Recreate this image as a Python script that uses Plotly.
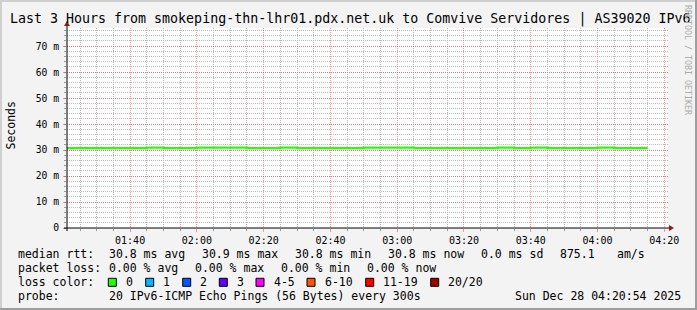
import plotly.graph_objects as go

# ---------------- data ----------------
DAY = "2025-12-28"
times = ["01:20", "01:25", "01:30", "01:35", "01:40", "01:45", "01:50", "01:55",
         "02:00", "02:05", "02:10", "02:15", "02:20", "02:25", "02:30", "02:35",
         "02:40", "02:45", "02:50", "02:55", "03:00", "03:05", "03:10", "03:15",
         "03:20", "03:25", "03:30", "03:35", "03:40", "03:45", "03:50", "03:55",
         "04:00", "04:05", "04:10", "04:15"]
median_ms = [30.75, 30.75, 30.75, 30.75, 30.75, 30.94, 30.75, 30.75,
             30.94, 30.94, 30.94, 30.75, 30.75, 30.94, 30.75, 30.75,
             30.75, 30.75, 30.94, 30.94, 30.94, 30.75, 30.75, 30.75,
             30.75, 30.75, 30.94, 30.75, 30.94, 30.75, 30.75, 30.75,
             30.94, 30.75, 30.75, 30.75]
x_start = DAY + " 01:21:06"
x_end = DAY + " 04:21:06"
y_max = 77
y_tickvals = [0, 10, 20, 30, 40, 50, 60, 70]
y_ticktext = ["0", "10 m", "20 m", "30 m", "40 m", "50 m", "60 m", "70 m"]

title = "Last 3 Hours from smokeping-thn-lhr01.pdx.net.uk to Comvive Servidores | AS39020 IPv6"
rtt_stats = ["30.8 ms avg", "30.9 ms max", "30.8 ms min", "30.8 ms now", "0.0 ms sd", "875.1", "am/s"]
loss_stats = ["0.00 % avg", "0.00 % max", "0.00 % min", "0.00 % now"]
loss_labels = ["0", "1", "2", "3", "4-5", "6-10", "11-19", "20/20"]
loss_colors = ["#26ff00", "#00b8ff", "#0059ff", "#5e00ff", "#ff00ff", "#ff5500", "#ff0000", "#a10000"]
probe_text = "20 IPv6-ICMP Echo Pings (56 Bytes) every 300s"
stamp_text = "Sun Dec 28 04:20:54 2025"

# ---------------- layout geometry (pixels) ----------------
W, H = 697, 310
L, R, T, B = 67, 29, 28, 82
PW, PH = W - L - R, H - T - B


def px(x):
    return (x - L) / PW


def py(y):
    return (H - B - y) / PH


MONO = "DejaVu Sans Mono"
fig = go.Figure()
fig.add_trace(go.Scatter(
    x=[DAY + " " + t for t in times], y=median_ms, mode="lines",
    line=dict(color="#26ff00", width=2.4, shape="hv"), hoverinfo="skip", showlegend=False))

minor_grid = "#bbbbbb"
major_grid = "rgba(255,70,70,0.55)"
fig.update_layout(
    width=W, height=H, margin=dict(l=L, r=R, t=T, b=B, autoexpand=False),
    paper_bgcolor="#f3f3f3", plot_bgcolor="#ffffff", showlegend=False,
    font=dict(family=MONO, color="#000000"),
    xaxis=dict(type="date", range=[x_start, x_end], tick0=DAY + " 00:00:00", dtick=1200000,
               tickformat="%H:%M", showgrid=True, gridcolor=major_grid, griddash="1px,1px",
               gridwidth=1, ticks="outside", ticklen=3, tickcolor=major_grid,
               tickfont=dict(family=MONO, size=10, color="#000"), zeroline=False, showline=False,
               minor=dict(dtick=300000, tick0=DAY + " 00:00:00", showgrid=True, gridcolor=minor_grid,
                          gridwidth=1, griddash="1px,1px", ticks="outside", ticklen=2,
                          tickcolor="#999")),
    yaxis=dict(range=[0, y_max], tickvals=y_tickvals, ticktext=y_ticktext, showgrid=True,
               gridcolor=major_grid, griddash="1px,1px", ticks="outside", ticklen=3,
               tickcolor=major_grid, tickfont=dict(family=MONO, size=9.7, color="#000"),
               zeroline=False, showline=False, ticklabelstandoff=2,
               minor=dict(dtick=2, showgrid=True, gridcolor=minor_grid, gridwidth=1,
                          griddash="1px,1px", ticks="outside", ticklen=2, tickcolor="#999")),
)

shapes = []
# frame
shapes.append(dict(type="rect", xref="paper", yref="paper", x0=px(0), x1=px(2), y0=py(0), y1=py(H),
                   fillcolor="#cfcfcf", line=dict(width=0), layer="below"))
shapes.append(dict(type="rect", xref="paper", yref="paper", x0=px(0), x1=px(W), y0=py(0), y1=py(2),
                   fillcolor="#cfcfcf", line=dict(width=0), layer="below"))
shapes.append(dict(type="rect", xref="paper", yref="paper", x0=px(W - 2), x1=px(W), y0=py(0), y1=py(H),
                   fillcolor="#9e9e9e", line=dict(width=0), layer="below"))
shapes.append(dict(type="rect", xref="paper", yref="paper", x0=px(0), x1=px(W), y0=py(H - 2), y1=py(H),
                   fillcolor="#9e9e9e", line=dict(width=0), layer="below"))
# axes lines
shapes.append(dict(type="line", xref="paper", yref="paper", x0=px(L - 3), x1=px(L + PW + 3), y0=0, y1=0,
                   line=dict(color="#000", width=1)))
shapes.append(dict(type="line", xref="paper", yref="paper", x0=0, x1=0, y0=py(H - B + 3), y1=py(T - 3),
                   line=dict(color="#000", width=1)))
# arrows
shapes.append(dict(type="path", xref="paper", yref="paper", xsizemode="pixel", ysizemode="pixel",
                   xanchor=px(L + PW + 1), yanchor=0, path="M 0,-3 L 5,0 L 0,3 Z",
                   fillcolor="#8b1a1a", line=dict(width=0)))
shapes.append(dict(type="path", xref="paper", yref="paper", xsizemode="pixel", ysizemode="pixel",
                   xanchor=0, yanchor=py(T - 2), path="M -3,0 L 3,0 L 0,5 Z",
                   fillcolor="#8b1a1a", line=dict(width=0)))

ann = []


def text(x, y, s, size=11.5, color="#000", xanchor="left", angle=0):
    ann.append(dict(xref="paper", yref="paper", x=px(x), y=py(y), text=s, showarrow=False,
                    xanchor=xanchor, yanchor="middle", textangle=angle,
                    font=dict(family=MONO, size=size, color=color)))


text(8, 19, title, size=13.3)
text(10.5, 126, "Seconds", size=11.5, xanchor="center", angle=-90)
text(688, 60, "RRDTOOL / TOBI OETIKER", size=8.3, color="#ababab", xanchor="center", angle=90)

# legend lines
y1, y2, y3, y4 = 254.3, 268.3, 282.3, 296
text(16, y1, "median rtt:")
for s, x in zip(rtt_stats, [107.3, 200, 293.3, 386, 479.3, 558.3, 615]):
    text(x, y1, s)
text(16, y2, "packet loss:")
for s, x in zip(loss_stats, [107, 193.3, 279.3, 365]):
    text(x, y2, s)
text(16, y3, "loss color:")
for lab, col, x in zip(loss_labels, loss_colors, [108.3, 145.7, 182.7, 219.3, 256, 307, 365.7, 430.7]):
    shapes.append(dict(type="rect", xref="paper", yref="paper", x0=px(x), x1=px(x + 8),
                       y0=py(y3 + 4), y1=py(y3 - 4), fillcolor=col, line=dict(color="#000", width=1)))
    text(x + 15.5, y3, lab)
text(16, y4, "probe:")
text(107.3, y4, probe_text)
text(513.3, y4, stamp_text)

fig.update_layout(shapes=shapes, annotations=ann)
fig.write_html("out.html", config={"displayModeBar": False})
